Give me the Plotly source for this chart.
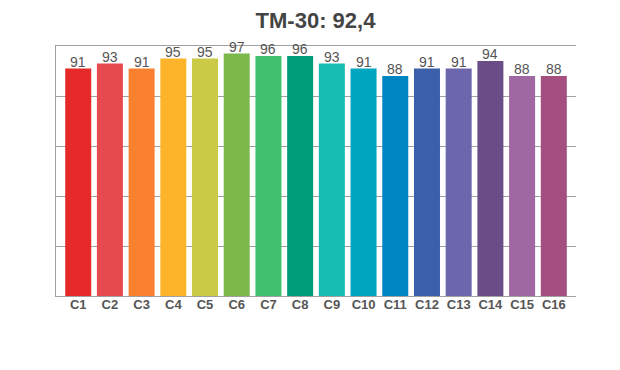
import plotly.graph_objects as go

categories = ["C1", "C2", "C3", "C4", "C5", "C6", "C7", "C8",
              "C9", "C10", "C11", "C12", "C13", "C14", "C15", "C16"]
values = [91, 93, 91, 95, 95, 97, 96, 96, 93, 91, 88, 91, 91, 94, 88, 88]
colors = ["#E62A2A", "#E64A4E", "#F9802F", "#FDB42A", "#CBCA46", "#7DB84B",
          "#40C06C", "#009D7A", "#17BCB1", "#00A5BF", "#0085C3", "#3B60A9",
          "#6C67AD", "#6A4C87", "#A068A3", "#A54E80"]
title_text = "TM-30: 92,4"

FONT = "Liberation Sans, Arial, sans-serif"

fig = go.Figure(go.Bar(
    x=categories, y=values,
    marker=dict(color=colors, line=dict(width=0)),
    width=0.82,
    hoverinfo="x+y",
))

for c, v in zip(categories, values):
    fig.add_annotation(x=c, y=v, text=str(v), showarrow=False,
                       xanchor="center", yanchor="bottom", yshift=-3,
                       font=dict(family=FONT, size=14, color="#555555"))

fig.update_layout(
    width=620, height=370,
    margin=dict(l=48, r=52, t=38, b=82),
    paper_bgcolor="white", plot_bgcolor="white",
    showlegend=False,
    title=dict(text=title_text, x=0.496, xanchor="center", y=0.968, yanchor="middle",
               font=dict(family=FONT, size=22, color="#444444", weight="bold")),
    xaxis=dict(range=[-0.7, 15.7], showline=True, mirror=True, linecolor="#a0a0a0",
               linewidth=1, showgrid=False, ticks="", ticklabelstandoff=-4,
               tickfont=dict(family=FONT, size=13, color="#555555", weight="bold")),
    yaxis=dict(range=[0, 100], dtick=20, showticklabels=False, showline=True,
               linecolor="#a0a0a0", linewidth=1, showgrid=True, gridcolor="#a0a0a0",
               gridwidth=1, zeroline=False, ticks=""),
)

fig.write_html("out.html")
